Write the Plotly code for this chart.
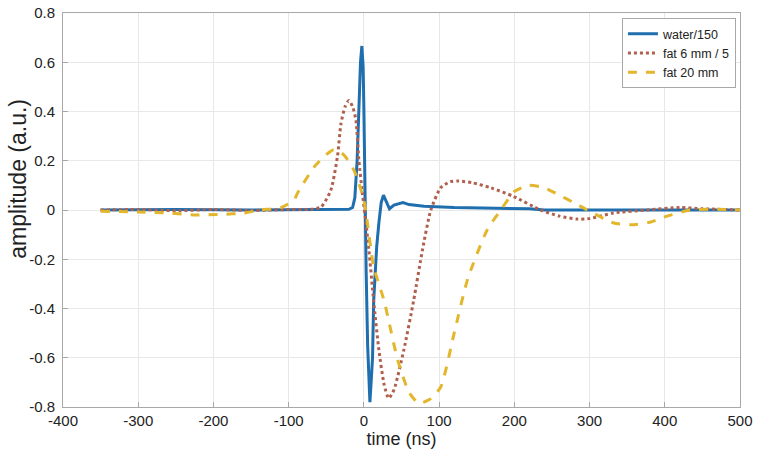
import plotly.graph_objects as go

# time axis (ns) and amplitudes
water_t = [-350, -250, -150, -60, -20, -15, -12, -9, -6.5, -4.5, -2.7, -1, 0, 1.3, 3, 5, 6.5,
           8, 10, 11.5, 13, 17, 20, 23, 26, 30, 34, 40, 46, 52, 60, 80, 120, 160, 220, 240, 300, 400, 500]
water_a = [0, 0.002, 0, 0.001, 0.003, 0.01, 0.05, 0.2, 0.42, 0.6, 0.666, 0.58, 0.41, 0.0, -0.25, -0.55, -0.72,
           -0.78, -0.68, -0.6, -0.37, -0.15, -0.05, 0.03, 0.06, 0.03, 0.005, 0.02, 0.025, 0.03, 0.022, 0.015, 0.01, 0.008, 0.005, 0.0, 0.0, 0.0, 0.0]

fat6_t = [-350, -300, -250, -200, -150, -100, -70, -57, -44, -35, -30.5, -25, -20, -15, -10.6, -6.6, -1.3,
          3, 6.6, 13, 20, 27, 33, 40, 53, 66, 78, 89, 102, 115, 126, 145, 169, 199, 235, 260, 284, 300, 332, 377, 420, 450, 500]
fat6_a = [0, 0.002, -0.003, 0.002, -0.002, 0.002, 0.003, 0.012, 0.08, 0.22, 0.35, 0.42, 0.445, 0.42, 0.365, 0.2, 0.05,
          -0.06, -0.16, -0.37, -0.57, -0.71, -0.765, -0.73, -0.57, -0.37, -0.16, 0.0, 0.09, 0.115, 0.118, 0.11, 0.09, 0.055, 0.0, -0.025, -0.037, -0.035, -0.012, 0.0, 0.01, 0.005, 0.0]

fat20_t = [-350, -300, -260, -226, -190, -159, -137, -110, -93, -88, -66, -50, -40, -27, -13, 0, 13,
           27, 45, 60, 73, 87, 102, 120, 138, 164, 182, 200, 219, 240, 260, 279, 297, 332, 355, 380, 398, 434, 470, 500]
fat20_a = [-0.005, -0.008, -0.012, -0.02, -0.018, -0.012, 0.0, 0.01, 0.04, 0.07, 0.175, 0.225, 0.245, 0.225, 0.16, 0.04, -0.23,
           -0.37, -0.61, -0.74, -0.785, -0.77, -0.72, -0.5, -0.28, -0.08, 0.0, 0.075, 0.1, 0.09, 0.06, 0.03, 0.0, -0.053, -0.06, -0.05, -0.03, 0.0, 0.003, 0.0]

x_ticks = [-400, -300, -200, -100, 0, 100, 200, 300, 400, 500]
x_labels = ["-400", "-300", "-200", "-100", "0", "100", "200", "300", "400", "500"]
y_ticks = [-0.8, -0.6, -0.4, -0.2, 0, 0.2, 0.4, 0.6, 0.8]
y_labels = ["-0.8", "-0.6", "-0.4", "-0.2", "0", "0.2", "0.4", "0.6", "0.8"]

fig = go.Figure()
fig.add_trace(go.Scatter(x=water_t, y=water_a, name="water/150", mode="lines",
                         line=dict(color="#1f6eae", width=3)))
fig.add_trace(go.Scatter(x=fat6_t, y=fat6_a, name="fat 6 mm / 5", mode="lines",
                         line=dict(color="#b0604c", width=3, dash="dot", shape="spline", smoothing=0.6)))
fig.add_trace(go.Scatter(x=fat20_t, y=fat20_a, name="fat 20 mm", mode="lines",
                         line=dict(color="#e3b62c", width=3, dash="dash", shape="spline", smoothing=0.6)))

axis_style = dict(showgrid=True, gridcolor="#e8e8e8", showline=True, linecolor="#a8a8a8", linewidth=1,
                  mirror=True, ticks="inside", ticklen=5, tickcolor="#a8a8a8", zeroline=False,
                  automargin=False, ticklabeloverflow="allow", tickfont=dict(size=15, color="#222"))

fig.update_xaxes(range=[-400, 500], tickvals=x_ticks, ticktext=x_labels, ticklabelstandoff=0,
                 title=dict(text="time (ns)", font=dict(size=18, color="#222"), standoff=2), **axis_style)
fig.update_yaxes(range=[-0.8, 0.8], tickvals=y_ticks, ticktext=y_labels, ticklabelstandoff=4, **axis_style)

# y label sits a little above the axis centre in the original
fig.add_annotation(text="amplitude (a.u.)", textangle=-90, xref="paper", yref="paper",
                   x=-0.066, y=0.58, xanchor="center", yanchor="middle", showarrow=False,
                   font=dict(size=23, color="#222"))

fig.update_layout(
    width=762, height=461,
    margin=dict(l=63, r=22, t=13, b=54),
    plot_bgcolor="white", paper_bgcolor="white",
    font=dict(family="Liberation Sans, Arial", color="#222"),
    legend=dict(x=0.994, y=0.987, xanchor="right", yanchor="top", bgcolor="white",
                bordercolor="#a8a8a8", borderwidth=1, font=dict(size=12.5), itemwidth=30,
                tracegroupgap=0),
    showlegend=True,
)

# drop the default 8px body margin so the figure fills the window
fig.write_html("out.html", config={"displayModeBar": False},
               post_script="document.body.style.margin='0';")
